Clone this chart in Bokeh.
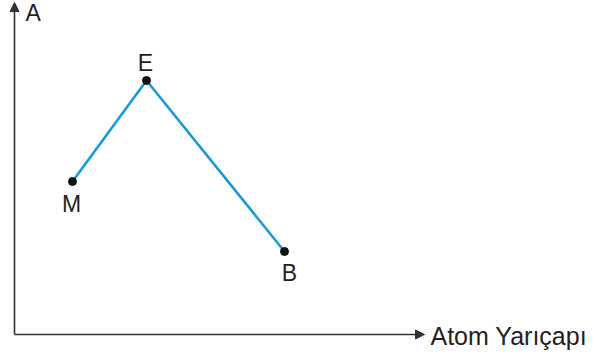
from bokeh.plotting import figure
from bokeh.models import Range1d, Arrow, NormalHead, ColumnDataSource, Label
from bokeh.core.properties import value
from bokeh.embed import file_html
from bokeh.resources import INLINE

# Data (arbitrary units, origin at axes intersection)
names = ["M", "E", "B"]
xs = [58, 132, 270]
ys = [153, 254, 83]
label_dx = [-1, -1, 5]
label_dy = [22, -18, 21]
x_title = "Atom Yarıçapı"
y_title = "A"

W, H = 595, 358
p = figure(width=W, height=H, output_backend="svg", toolbar_location=None,
           x_range=Range1d(-14, W - 14), y_range=Range1d(-(H - 334), 334),
           min_border=0, min_border_left=0, min_border_right=0,
           min_border_top=0, min_border_bottom=0)
p.xaxis.visible = False
p.yaxis.visible = False
p.grid.visible = False
p.outline_line_color = None
p.background_fill_color = "white"
p.border_fill_color = "white"

axis_color = "#333333"
p.add_layout(Arrow(end=NormalHead(size=9, fill_color=axis_color, line_color=axis_color),
                   x_start=0, y_start=0, x_end=0, y_end=332,
                   line_color=axis_color, line_width=1.6))
p.add_layout(Arrow(end=NormalHead(size=9, fill_color=axis_color, line_color=axis_color),
                   x_start=0, y_start=0, x_end=410, y_end=0,
                   line_color=axis_color, line_width=1.6))

src = ColumnDataSource(dict(x=xs, y=ys, name=names, dx=label_dx, dy=label_dy))
p.line("x", "y", source=src, line_color="#1a9ad7", line_width=2.6)
p.scatter("x", "y", source=src, size=8, fill_color="#111111", line_color="#111111")
p.text("x", "y", text="name", source=src, x_offset="dx", y_offset="dy",
       text_align="center", text_baseline="alphabetic",
       text_font=value("Liberation Sans"), text_font_size="23px", text_color="#231f20")

p.add_layout(Label(x=11, y=322, text=y_title, text_font="Liberation Sans",
                   text_font_size="23px", text_color="#231f20",
                   text_align="left", text_baseline="alphabetic"))
p.add_layout(Label(x=416, y=-1, text=x_title, text_font="Liberation Sans",
                   text_font_size="25px", text_color="#231f20",
                   text_align="left", text_baseline="alphabetic"))

open("out.html", "w").write(file_html(p, INLINE))
